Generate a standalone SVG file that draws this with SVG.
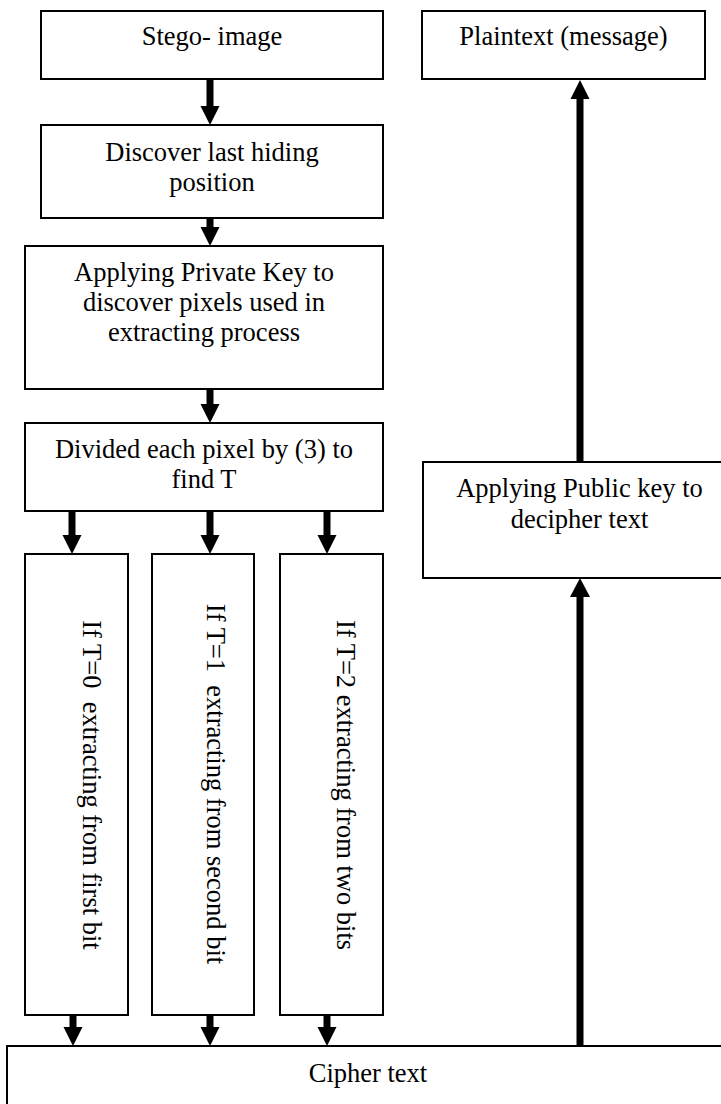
<svg xmlns="http://www.w3.org/2000/svg" width="721" height="1104" viewBox="0 0 721 1104">
<style>
.box{fill:#fff;stroke:#000;stroke-width:2}
.t{font-family:"Liberation Serif","Times New Roman",serif;font-size:26.5px;fill:#000;text-anchor:middle}
.sh{stroke:#000;stroke-width:7;fill:none}
.hd{fill:#000}
</style>
<rect width="721" height="1104" fill="#fff"/>
<g id="stego"><rect class="box" x="41" y="11" width="342" height="68"/><text class="t" x="212" y="45">Stego- image</text></g>
<g id="plaintext"><rect class="box" x="422" y="11" width="283" height="68"/><text class="t" x="563.5" y="45">Plaintext (message)</text></g>
<g id="discover"><rect class="box" x="41" y="125" width="342" height="93"/><text class="t" x="212" y="161">Discover last hiding</text><text class="t" x="212" y="191">position</text></g>
<g id="privatekey"><rect class="box" x="25" y="246" width="358" height="143"/><text class="t" x="204" y="281">Applying Private Key to</text><text class="t" x="204" y="311">discover pixels used in</text><text class="t" x="204" y="341">extracting process</text></g>
<g id="divide"><rect class="box" x="25" y="423" width="358" height="88"/><text class="t" x="204" y="458">Divided each pixel by (3) to</text><text class="t" x="204" y="488">find T</text></g>
<g id="t0"><rect class="box" x="25" y="554" width="103" height="461"/><text class="t" xml:space="preserve" transform="translate(83,785) rotate(90)">If T=0  extracting from first bit</text></g>
<g id="t1"><rect class="box" x="152" y="554" width="102" height="461"/><text class="t" xml:space="preserve" transform="translate(207,784) rotate(90)">If T=1  extracting from second bit</text></g>
<g id="t2"><rect class="box" x="280" y="554" width="103" height="461"/><text class="t" xml:space="preserve" transform="translate(337,785) rotate(90)">If T=2 extracting from two bits</text></g>
<g id="publickey"><rect class="box" x="423" y="462" width="320" height="116"/><text class="t" x="579.5" y="497">Applying Public key to</text><text class="t" x="579.5" y="528">decipher text</text></g>
<g id="cipher"><rect class="box" x="7" y="1046" width="730" height="70"/><text class="t" x="368" y="1082">Cipher text</text></g>
<g id="connectors">
<line class="sh" x1="210" y1="79" x2="210" y2="107"/><polygon class="hd" points="200.5,106 219.5,106 210,125"/>
<line class="sh" x1="210" y1="218" x2="210" y2="228"/><polygon class="hd" points="200.5,227 219.5,227 210,246"/>
<line class="sh" x1="210" y1="389" x2="210" y2="405"/><polygon class="hd" points="200.5,404 219.5,404 210,423"/>
<line class="sh" x1="72" y1="511" x2="72" y2="536"/><polygon class="hd" points="62.5,535 81.5,535 72,554"/>
<line class="sh" x1="210" y1="511" x2="210" y2="536"/><polygon class="hd" points="200.5,535 219.5,535 210,554"/>
<line class="sh" x1="327" y1="511" x2="327" y2="536"/><polygon class="hd" points="317.5,535 336.5,535 327,554"/>
<line class="sh" x1="73" y1="1015" x2="73" y2="1028"/><polygon class="hd" points="63.5,1027 82.5,1027 73,1046"/>
<line class="sh" x1="210" y1="1015" x2="210" y2="1028"/><polygon class="hd" points="200.5,1027 219.5,1027 210,1046"/>
<line class="sh" x1="327" y1="1015" x2="327" y2="1028"/><polygon class="hd" points="317.5,1027 336.5,1027 327,1046"/>
<line class="sh" x1="580" y1="1046" x2="580" y2="596"/><polygon class="hd" points="570,597 590,597 580,578"/>
<line class="sh" x1="580" y1="462" x2="580" y2="98"/><polygon class="hd" points="570.5,99 589.5,99 580,80"/>
</g>
</svg>
